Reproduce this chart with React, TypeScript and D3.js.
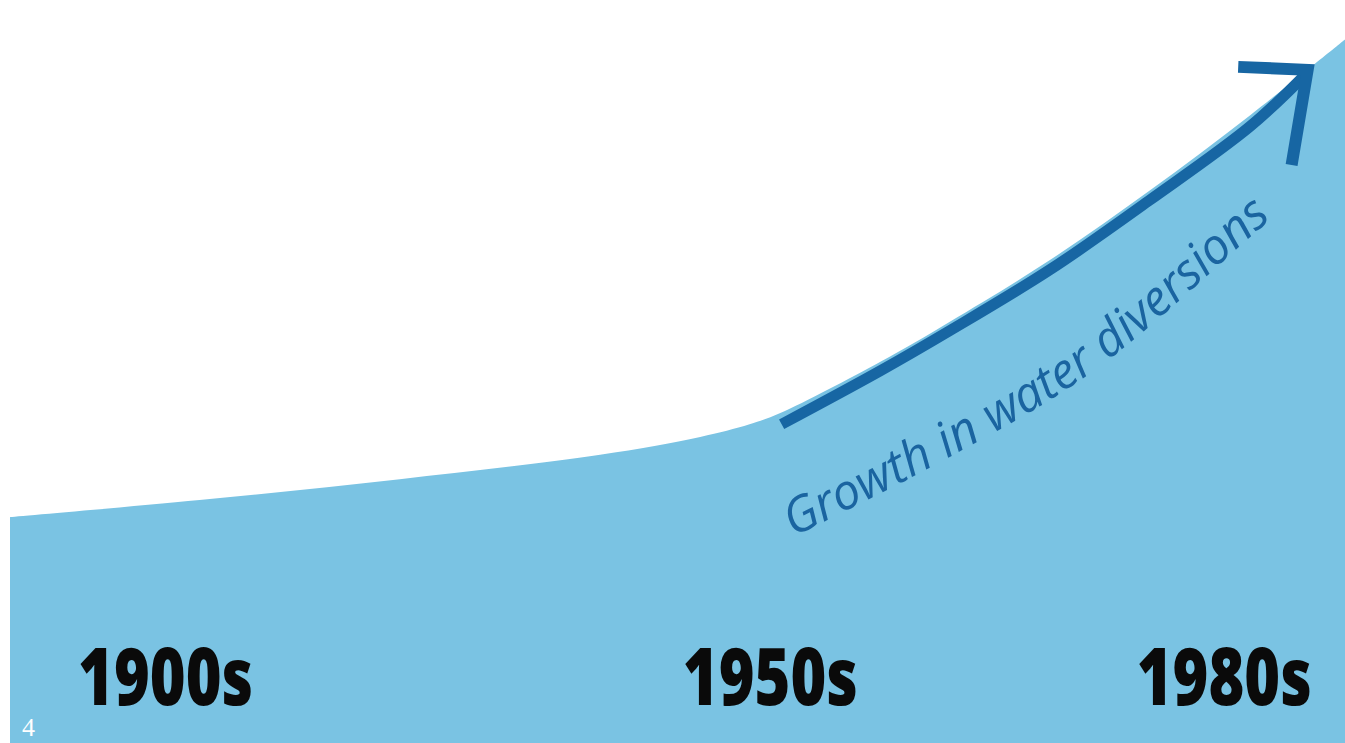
import React from 'react';
import * as d3 from 'd3';

const W = 1345;
const H = 743;

// area outline: progress along the timeline (0-100) vs diversion index (0-100)
const areaT = [0, 14.2, 29.2, 44.2, 51.7, 55.4, 57.7, 65.2, 70.4, 77.9, 85.4, 92.9, 100];
const areaV = [30.4, 32.7, 35.5, 38.8, 41.2, 42.9, 44.4, 51.3, 56.7, 65.0, 74.4, 84.5, 94.7];

// arrow shaft
const arrowT = [57.8, 65.2, 70.4, 77.9, 85.4, 92.9, 97.0];
const arrowV = [42.9, 50.1, 55.5, 63.7, 73.1, 83.0, 89.9];

// arrow head: left arm, tip, lower arm
const headT = [92.0, 97.2, 96.0];
const headV = [91.0, 90.6, 77.8];

// baseline of the rotated caption
const captionT = [58.4, 70.2, 81.1, 93.8, 98.5];
const captionV = [27.5, 38.3, 50.0, 69.5, 76.8];
const caption = 'Growth in water diversions';

const decades = ['1900s', '1950s', '1980s'];
const decadeT = [5.1, 50.4, 84.4];
const decadeV = 5.1;

const x = d3.scaleLinear().domain([0, 100]).range([10, W]);
const y = d3.scaleLinear().domain([0, 100]).range([H, 0]);

const App: React.FC = () => {
  const areaPts: [number, number][] = areaT.map((t, i) => [t, areaV[i]]);
  const area = d3.area<[number, number]>()
    .x(d => x(d[0]))
    .y0(y(0))
    .y1(d => y(d[1]))
    .curve(d3.curveCatmullRom.alpha(0.5))(areaPts);

  const smooth = d3.line<[number, number]>()
    .x(d => x(d[0]))
    .y(d => y(d[1]))
    .curve(d3.curveCatmullRom.alpha(0.5));

  const shaft = smooth(arrowT.map((t, i) => [t, arrowV[i]]));
  const head = d3.line<[number, number]>()
    .x(d => x(d[0]))
    .y(d => y(d[1]))(headT.map((t, i) => [t, headV[i]]));
  const captionPath = smooth(captionT.map((t, i) => [t, captionV[i]]));

  return (
    <div style={{ position: 'fixed', left: 0, top: 0, width: W, height: H, background: '#fff' }}>
      <svg width={W} height={H} style={{ display: 'block' }}>
        <defs>
          <path id="captionPath" d={captionPath || ''} />
        </defs>
        <path d={area || ''} fill="#7ac3e3" />
        <path d={shaft || ''} fill="none" stroke="#1766a3" strokeWidth={11} />
        <path d={head || ''} fill="none" stroke="#1766a3" strokeWidth={12} strokeLinejoin="miter" />
        <text
          fontFamily="'Open Sans', 'Noto Sans', sans-serif"
          fontStyle="italic"
          fontSize={49}
          fill="#1a64a0"
        >
          <textPath href="#captionPath" startOffset={4}>
            {caption}
          </textPath>
        </text>
        {decades.map((d, i) => (
          <text
            key={d}
            transform={`translate(${x(decadeT[i])},${y(decadeV)}) scale(0.765,1)`}
            fontFamily="'Open Sans', 'DejaVu Sans', sans-serif"
            fontWeight={800}
            fontSize={80}
            fill="#0a0a0a"
          >
            {d}
          </text>
        ))}
        <text x={22} y={736} fontFamily="'Liberation Serif', 'DejaVu Serif', serif" fontSize={26} fill="#ffffff">4</text>
      </svg>
    </div>
  );
};

export default App;
